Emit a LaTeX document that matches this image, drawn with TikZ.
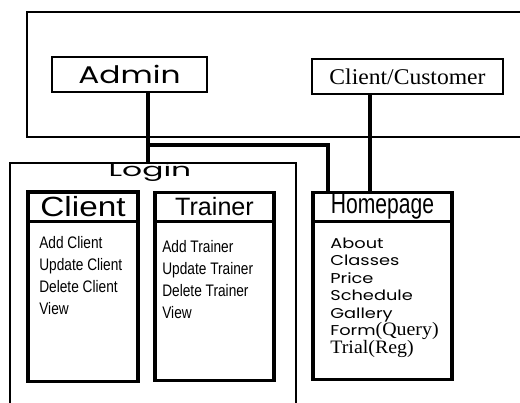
\documentclass[tikz,border=0pt]{standalone}
\usepackage{fontspec}
\setmainfont{Liberation Serif}
\newfontfamily\narrowsf[FakeStretch=0.82]{Liberation Sans}
\newfontfamily\widesf[FakeStretch=1.2]{Liberation Sans}
\newfontfamily\plainsf{Liberation Sans}
\newfontfamily\homesf[FakeStretch=0.76]{Liberation Sans}
\newfontfamily\roundsf[FakeStretch=1.3]{Poppins}
\newfontfamily\loginsf[FakeStretch=1.7]{Poppins}
\newfontfamily\menusf[FakeStretch=1.25]{Poppins}
\newfontfamily\serifw[FakeStretch=1.05]{Liberation Serif}
\usepackage{tikz}
\usetikzlibrary{positioning}

\begin{document}
\begin{tikzpicture}[x=0.02cm, y=-0.02cm,
	outerbox/.style={draw, line width=1.3pt, outer sep=0pt},
	headbox/.style={draw, line width=1.8pt, outer sep=0pt, inner sep=0pt, minimum height=0.59cm},
	bodybox/.style={draw, line width=1.8pt, outer sep=0pt, below=0pt of #1},
	wire/.style={line width=2.1pt},
	listitem/.style={anchor=base west, inner sep=0pt, font=\fontsize{9.5}{11}\narrowsf},
	menuitem/.style={anchor=base west, inner sep=0pt, font=\fontsize{8.1}{10}\menusf}]
	\useasboundingbox (0,0) rectangle (520,402);
	\clip (0,0) rectangle (520,402);

	% users
	\node[outerbox, minimum width=10.1cm, minimum height=2.5cm] (users) at (279.5,74.5) {};
	\node[outerbox, minimum width=3.1cm, minimum height=0.7cm, font=\fontsize{13.7}{15}\roundsf] (admin) at (129.5,74.5) {Admin};
	\node[outerbox, minimum width=3.82cm, minimum height=0.7cm, font=\fontsize{12.8}{14}\serifw] (cust) at (407.5,76.5) {Client/Customer};

	% login area
	\node[anchor=base, inner sep=0pt, font=\fontsize{10.5}{12}\loginsf] (logintxt) at (150,176.5) {Login};
	\node[outerbox, minimum width=5.72cm, minimum height=5.14cm] (login) at (153,291.5) {};

	\node[headbox, minimum width=2.2cm, font=\fontsize{15.8}{17}\widesf] (clh) at (83,206.8) {Client};
	\node[bodybox=clh, minimum width=2.2cm, minimum height=3.2cm] (clb) {};
	\node[headbox, minimum width=2.38cm, font=\fontsize{14.3}{16}\plainsf] (trh) at (214.5,207) {Trainer};
	\node[bodybox=trh, minimum width=2.38cm, minimum height=3.18cm] (trb) {};
	\node[headbox, minimum width=2.78cm, font=\fontsize{15.8}{17}\homesf] (hph) at (382.5,207) {Homepage};
	\node[bodybox=hph, minimum width=2.78cm, minimum height=3.16cm] (hpb) {};

	\foreach \t [count=\i from 0] in {Add Client, Update Client, Delete Client, View}
		\node[listitem] (ci\i) at (39,{248+22.3*\i}) {\t};
	\foreach \t [count=\i from 0] in {Add Trainer, Update Trainer, Delete Trainer, View}
		\node[listitem] (ti\i) at (162,{252+22*\i}) {\t};
	\foreach \t [count=\i from 0] in {About, Classes, Price, Schedule, Gallery, {Form{\fontsize{10.8}{10}\serifw(Query)}}, {\fontsize{10.8}{10}\serifw Trial(Reg)}}
		\node[menuitem] (hi\i) at (330,{248+17.5*\i}) {\t};

	% connectors
	\coordinate (aj) at (148,145);
	\coordinate (hj) at (328,145);
	\coordinate (cj) at (370,0);
	\draw[wire] (admin.south -| aj) -- (login.north -| aj);
	\draw[wire] (aj) -- (hj) -- (hj |- hph.north);
	\draw[wire] (cust.south -| cj) -- (hph.north -| cj);
\end{tikzpicture}
\end{document}
